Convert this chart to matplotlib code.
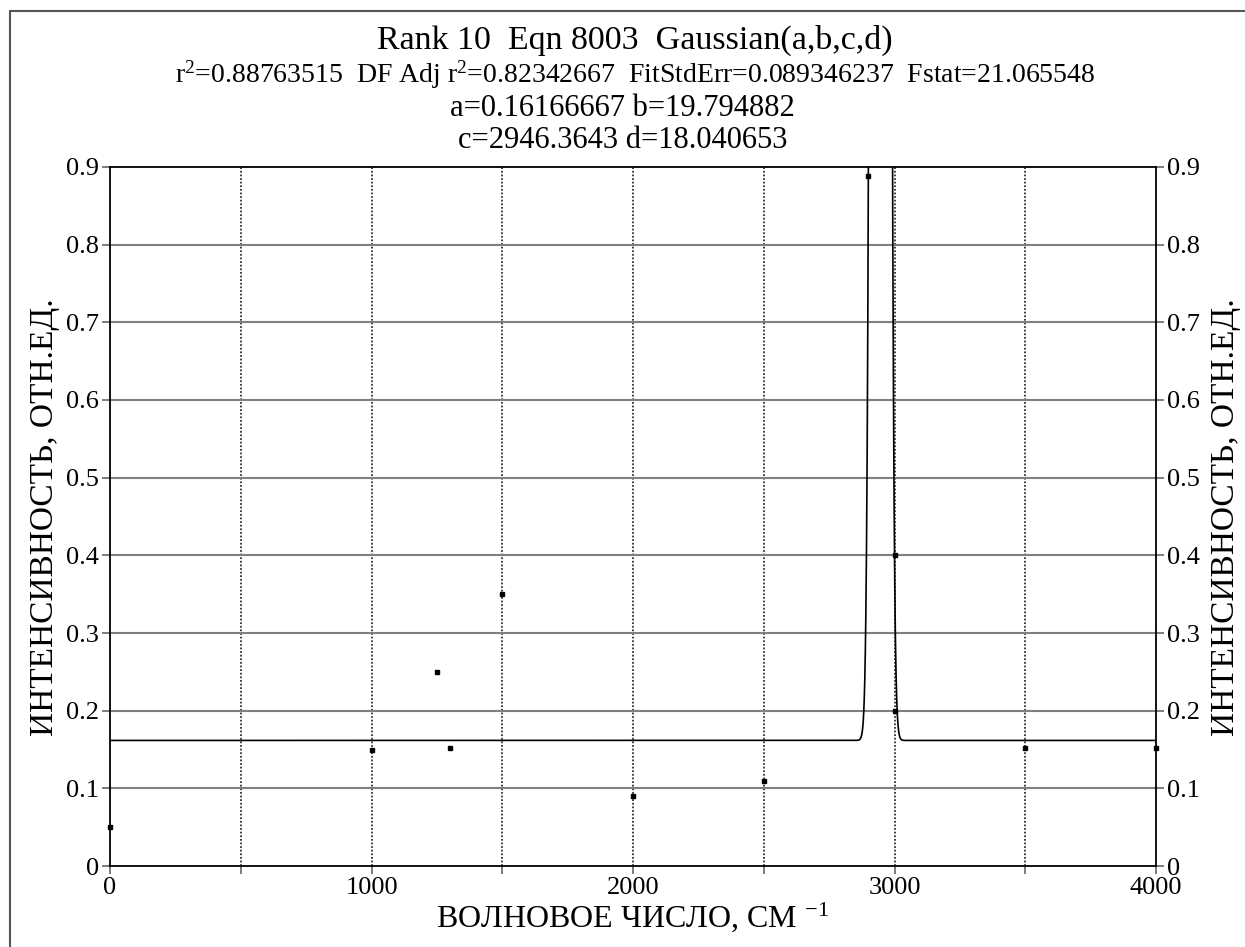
import numpy as np
import matplotlib.pyplot as plt
from matplotlib.patches import Rectangle

plt.rcParams['font.family'] = ['Liberation Serif', 'DejaVu Serif']
plt.rcParams['mathtext.fontset'] = 'custom'
plt.rcParams['mathtext.rm'] = 'Liberation Serif'
plt.rcParams['mathtext.it'] = 'Liberation Serif'

# measured points
x_pts = [0, 1000, 1250, 1300, 1500, 2000, 2500, 2900, 3000, 3000, 3500, 4000]
y_pts = [0.05, 0.15, 0.25, 0.152, 0.35, 0.09, 0.11, 0.888, 0.40, 0.20, 0.152, 0.152]

# fitted Gaussian(a,b,c,d) parameters shown in the title
a = 0.16166667
b = 19.794882
c = 2946.3643
d = 18.040653

x_ticks = [0, 500, 1000, 1500, 2000, 2500, 3000, 3500, 4000]
x_labels = ['0', '', '1000', '', '2000', '', '3000', '', '4000']
y_ticks = [0, 0.1, 0.2, 0.3, 0.4, 0.5, 0.6, 0.7, 0.8, 0.9]
y_labels = ['0', '0.1', '0.2', '0.3', '0.4', '0.5', '0.6', '0.7', '0.8', '0.9']

fig = plt.figure(figsize=(12.45, 9.47), dpi=100)
fig.patches.append(Rectangle((9.5 / 1245, -0.05), 1.1, 1 - 10.5 / 947 + 0.05,
                             transform=fig.transFigure, fill=False,
                             edgecolor='#555555', linewidth=1.5))

ax = fig.add_axes([110 / 1245, 1 - 866 / 947, (1156 - 110) / 1245, (866 - 167) / 947])

xs = np.linspace(0, 4000, 8001)
ys = a + b * np.exp(-0.5 * ((xs - c) / d) ** 2)
ax.plot(xs, ys, color='black', linewidth=1.2, zorder=3)
ax.plot(x_pts, y_pts, 's', color='black', markersize=2.2, zorder=4, clip_on=False)

for xv in x_ticks[1:-1]:
    ax.axvline(xv, color='#333333', linestyle=(0, (1, 1)), linewidth=1.3, zorder=1)
for yv in y_ticks[1:-1]:
    ax.axhline(yv, color='#808080', linewidth=1.5, zorder=1)

ax.set_xlim(0, 4000)
ax.set_ylim(0, 0.9)
ax.set_xticks(x_ticks)
ax.set_xticklabels(x_labels, fontsize=19)
ax.set_yticks(y_ticks)
ax.set_yticklabels(y_labels, fontsize=19)
ax.tick_params(axis='both', direction='out', length=6, width=1.2, color='#666666', pad=2)
ax.tick_params(axis='y', left=True, right=True, labelleft=True, labelright=True)
for s in ax.spines.values():
    s.set_linewidth(1.3)

ylab = 'ИНТЕНСИВНОСТЬ, ОТН.ЕД.'
fig.text(45 / 1245, 1 - 517 / 947, ylab, rotation=90, ha='center', va='center', fontsize=24)
fig.text(1226 / 1245, 1 - 517 / 947, ylab, rotation=90, ha='center', va='center', fontsize=24)
fig.text(633 / 1245, 1 - 917 / 947, 'ВОЛНОВОЕ ЧИСЛО, СМ $^{-1}$', ha='center', va='center', fontsize=23)

fig.text(0.51, 1 - 40 / 947, 'Rank 10  Eqn 8003  Gaussian(a,b,c,d)', ha='center', va='center', fontsize=24.5)
fig.text(0.51, 1 - 75 / 947,
         'r$^{2}$=0.88763515  DF Adj r$^{2}$=0.82342667  FitStdErr=0.089346237  Fstat=21.065548',
         ha='center', va='center', fontsize=20)
fig.text(0.5, 1 - 108 / 947, 'a=0.16166667 b=19.794882', ha='center', va='center', fontsize=22)
fig.text(0.5, 1 - 141 / 947, 'c=2946.3643 d=18.040653', ha='center', va='center', fontsize=22)

fig.savefig('out.png', dpi=100)
